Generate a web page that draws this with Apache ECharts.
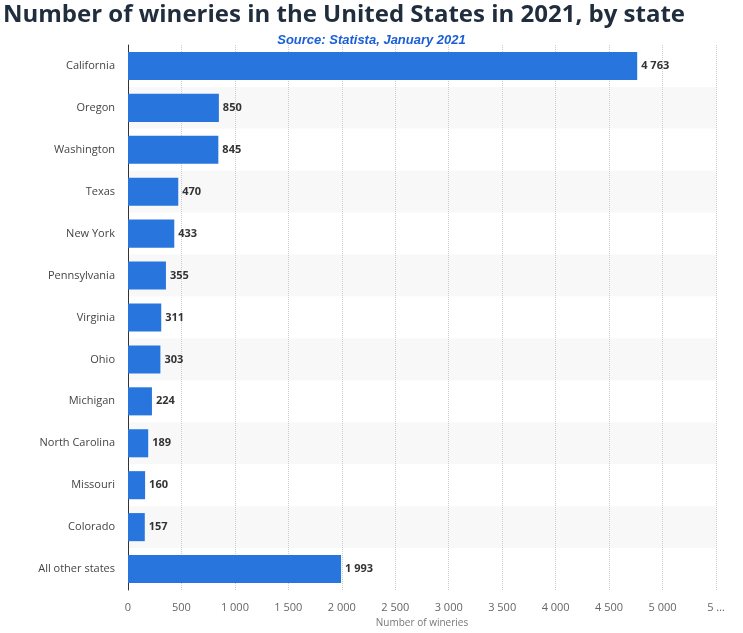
<!DOCTYPE html>
<html><head><meta charset="utf-8">
<script src="https://cdn.jsdelivr.net/npm/echarts@6/dist/echarts.min.js"></script>
<style>html,body{margin:0;padding:0;background:#fff}#c{width:743px;height:633px}</style>
</head><body><div id="c"></div>
<script>
const categories = ["California","Oregon","Washington","Texas","New York","Pennsylvania","Virginia","Ohio","Michigan","North Carolina","Missouri","Colorado","All other states"];
const values = [4763,850,845,470,433,355,311,303,224,189,160,157,1993];
const xTicks = [0,500,1000,1500,2000,2500,3000,3500,4000,4500,5000,5500];
const fmt = v => String(v).replace(/\B(?=(\d{3})+(?!\d))/g, ' ');
const chart = echarts.init(document.getElementById('c'));
chart.setOption({
  animation:false,
  title:[{text:'Number of wineries in the United States in 2021, by state',left:-2,top:-2,textStyle:{fontFamily:'Open Sans',fontSize:24,fontWeight:'bold',color:'#1f2d3d'}},
         {text:'Source: Statista, January 2021',left:'center',top:29,textStyle:{fontFamily:'Liberation Sans',fontSize:13,fontStyle:'italic',fontWeight:'bold',color:'#1a5fd6'}}],
  grid:{left:128,right:27,top:45,bottom:43},
  xAxis:{type:'value',min:0,max:5500,interval:500,name:'Number of wineries',nameLocation:'middle',nameGap:27,
    nameTextStyle:{color:'#777',fontSize:10,fontFamily:'Open Sans'},
    axisLabel:{color:'#666',fontSize:11,fontFamily:'Open Sans',margin:12,formatter:v=>v===5500?'5 …':fmt(v)},
    splitLine:{show:true,lineStyle:{type:'dotted',color:'#ccc'}},axisLine:{show:false},axisTick:{show:false}},
  yAxis:{type:'category',data:categories,inverse:true,
    axisLabel:{color:'#444',fontSize:11,fontFamily:'Open Sans',margin:13},
    axisLine:{show:true,lineStyle:{color:'#333'}},axisTick:{show:false},
    splitArea:{show:true,areaStyle:{color:['#ffffff','#f8f8f8']}}},
  series:[{type:'bar',data:values,barCategoryGap:'33%',itemStyle:{color:'#2876dd'},
    label:{show:true,position:'right',distance:4,color:'#333',fontSize:11,fontWeight:'bold',fontFamily:'Open Sans',formatter:p=>fmt(p.value)}}]
});
</script></body></html>
